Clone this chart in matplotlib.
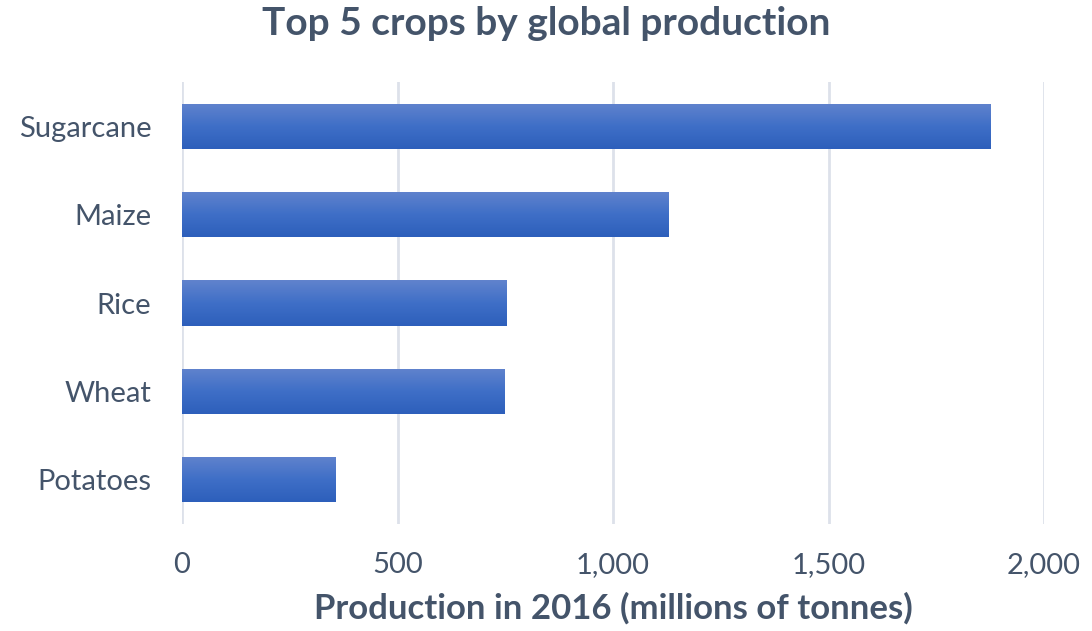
import matplotlib
matplotlib.use("Agg")
import matplotlib.pyplot as plt
import numpy as np
from matplotlib.colors import LinearSegmentedColormap

crops = ["Sugarcane", "Maize", "Rice", "Wheat", "Potatoes"]
production = [1877, 1129, 754, 749, 357]
xticks = [0, 500, 1000, 1500, 2000]
xticklabels = ["0", "500", "1,000", "1,500", "2,000"]

TEXT = "#44546a"
plt.rcParams['font.family'] = ['Lato', 'DejaVu Sans']

fig = plt.figure(figsize=(10.92, 6.31), dpi=100)
ax = fig.add_axes([182/1092, 1-524/631, (1044-182)/1092, (524-82)/631])

ypos = np.arange(len(crops))
bars = ax.barh(ypos, production, height=0.51, color="#4472c4", zorder=2)

cmap = LinearSegmentedColormap.from_list("g", ["#6183cd", "#3f6fc7", "#2d5fbb"])
grad = np.linspace(0, 1, 256).reshape(-1, 1)
for b in bars:
    x0, y0 = b.get_x(), b.get_y()
    w, h = b.get_width(), b.get_height()
    im = ax.imshow(grad, cmap=cmap, aspect='auto', extent=[x0, x0+w, y0+h, y0],
                   origin='upper', zorder=3)
    im.set_clip_path(b)
ax.set_xlim(0, 2000)
ax.set_ylim(len(crops)-0.5, -0.5)

ax.set_yticks(ypos)
ax.set_yticklabels(crops)
ax.set_xticks(xticks)
ax.set_xticklabels(xticklabels)
ax.tick_params(axis='both', length=0, labelsize=21, labelcolor=TEXT)
ax.tick_params(axis='y', pad=22)
ax.tick_params(axis='x', pad=20)
ax.grid(axis='x', color="#dde1ea", linewidth=2, zorder=0)
for s in ax.spines.values():
    s.set_visible(False)

ax.set_xlabel("Production in 2016 (millions of tonnes)", fontsize=25, fontweight='bold',
              color=TEXT, labelpad=10)
fig.suptitle("Top 5 crops by global production", fontsize=28, fontweight='bold',
             color=TEXT, y=0.99)

fig.savefig("out.png", dpi=100)
